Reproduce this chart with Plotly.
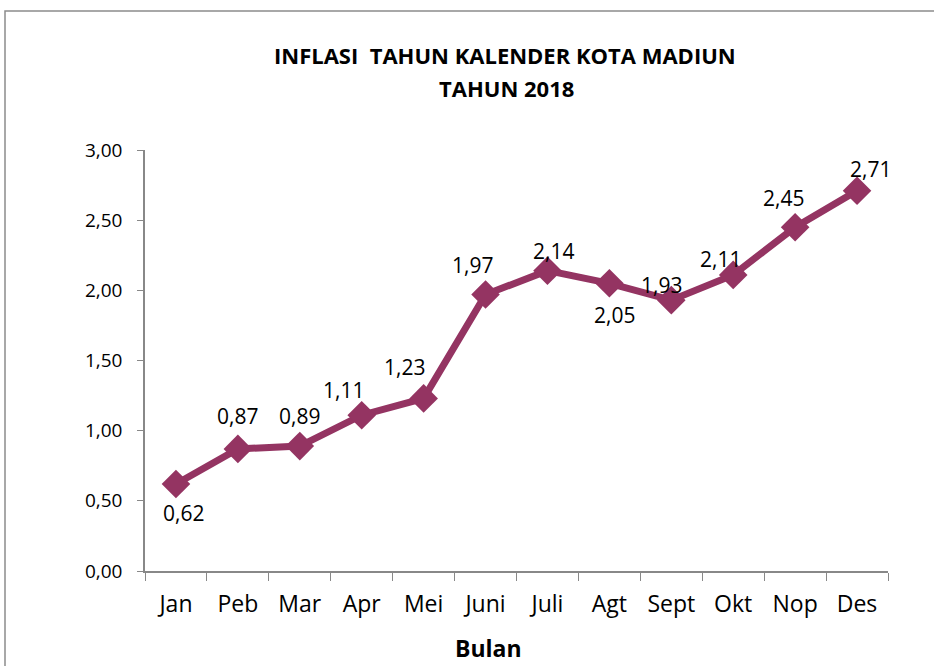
import plotly.graph_objects as go

months = ["Jan", "Peb", "Mar", "Apr", "Mei", "Juni", "Juli", "Agt", "Sept", "Okt", "Nop", "Des"]
inflasi = [0.62, 0.87, 0.89, 1.11, 1.23, 1.97, 2.14, 2.05, 1.93, 2.11, 2.45, 2.71]
# label offsets (pixels) for data labels
label_dx = [8, 0, 0, -18, -19, -13, 6, 5, -10, -13, -12, 13]
label_dy = [-29, 33, 30, 25, 31, 30, 20, -32, 15, 16, 29, 22]

color = "#943462"
font = "Open Sans, Carlito, Calibri, sans-serif"

W, H = 934, 666
L, R, T, B = 145, 888, 150, 571  # plot area in screen pixels

def px(x):
    return (x - L) / (R - L)

def py(y):
    return (B - y) / (B - T)

fig = go.Figure()
fig.add_trace(go.Scatter(
    x=months, y=inflasi, mode="lines+markers",
    line=dict(color=color, width=7),
    marker=dict(symbol="diamond", size=22, color=color),
    hoverinfo="skip", showlegend=False,
))

for m, v, dx, dy in zip(months, inflasi, label_dx, label_dy):
    fig.add_annotation(x=m, y=v, text=("%.2f" % v).replace(".", ","),
                       showarrow=False, xshift=dx, yshift=dy,
                       xanchor="center", yanchor="middle",
                       font=dict(family=font, size=21, color="black"))

fig.add_annotation(xref="paper", yref="paper", x=px(505), y=py(55),
                   text="<b>INFLASI  TAHUN KALENDER KOTA MADIUN</b>",
                   xanchor="center", yanchor="middle",
                   showarrow=False, font=dict(family=font, size=22, color="black"))
fig.add_annotation(xref="paper", yref="paper", x=px(506), y=py(88),
                   text="<b>TAHUN 2018</b>",
                   xanchor="center", yanchor="middle",
                   showarrow=False, font=dict(family=font, size=22, color="black"))
fig.add_annotation(xref="paper", yref="paper", x=px(488), y=py(666),
                   text="<b>Bulan</b>", showarrow=False,
                   xanchor="center", yanchor="bottom",
                   font=dict(family=font, size=23, color="black"))

fig.add_shape(type="rect", xref="paper", yref="paper",
              x0=px(5), x1=1.2, y0=-0.5, y1=py(11),
              line=dict(color="#8c8c8c", width=1.5), layer="below")

fig.update_layout(
    width=W, height=H,
    margin=dict(l=L, r=W - R, t=T, b=H - B),
    paper_bgcolor="white", plot_bgcolor="white",
    separators=",.",
    font=dict(family=font, size=19, color="black"),
)
fig.update_xaxes(
    range=[-0.5, len(months) - 0.5],
    showline=True, linecolor="#888888", linewidth=1.5,
    ticks="outside", ticklen=8, tickcolor="#888888", tickson="boundaries",
    showgrid=False, ticklabelstandoff=12,
    tickfont=dict(family=font, size=23),
)
fig.update_yaxes(
    range=[0, 3], dtick=0.5, tickformat=".2f",
    showline=True, linecolor="#888888", linewidth=1.5,
    ticks="outside", ticklen=6, tickcolor="#888888",
    showgrid=False, zeroline=False, ticklabelstandoff=11,
    tickfont=dict(family=font, size=19),
)

fig.write_html("out.html", config={"displayModeBar": False},
               post_script="document.body.style.margin='0';document.body.style.padding='0';")
